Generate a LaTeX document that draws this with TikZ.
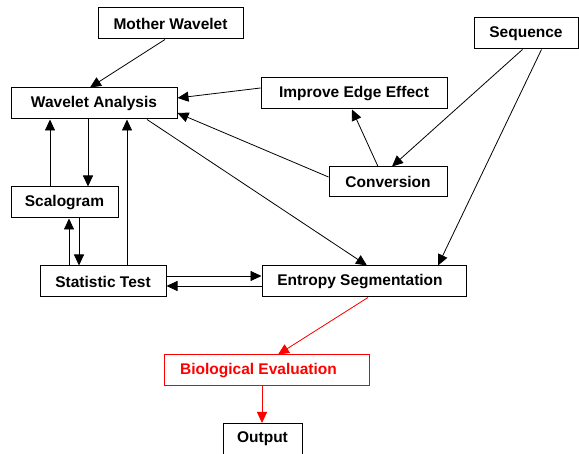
\documentclass[tikz,border=0pt]{standalone}
\usepackage{fontspec}
\setmainfont{Liberation Sans}
\usepackage{tikz}
\usetikzlibrary{positioning,calc,arrows.meta}
\tikzset{stepnode/.style={shape=rectangle, draw=black, fill=white, line width=1pt, inner sep=0pt, minimum height=31pt, font=\fontsize{15.5}{18}\selectfont\bfseries}}
\tikzset{evalnode/.style={stepnode, draw=red, text=red}}
\tikzset{flow/.style={line width=0.8pt, -{Triangle[length=11pt,width=10pt]}}}
\tikzset{redflow/.style={flow, draw=red, fill=red}}

\begin{document}
\begin{tikzpicture}[x=1pt,y=-1pt]
\useasboundingbox (0,0) rectangle (579,454);
%Nodes
\node[stepnode, minimum width=145pt] (mother) at (170.5,23.5) {Mother Wavelet};
\node[stepnode, minimum width=166pt] (wa)     at (94,103.5)   {Wavelet Analysis};
\node[stepnode, minimum width=107pt] (scal)   at (64.5,202.5) {Scalogram};
\node[stepnode, minimum width=126pt] (stat)   at (103,281.5)  {Statistic Test};
\node[stepnode, minimum width=204pt] (ent)    at (364,281.5)  {Entropy Segmentation\hspace*{8pt}};
\node[evalnode, minimum width=205pt] (bio)    at (266.5,370.5) {Biological Evaluation\hspace*{16pt}};
\node[stepnode, minimum width=79pt]  (out)    at (262.5,439) {Output};
\node[stepnode, minimum width=186pt] (imp)    at (354,93.5)   {Improve Edge Effect};
\node[stepnode, minimum width=118pt, minimum height=30pt] (conv) at (388,182) {Conversion};
\node[stepnode, minimum width=104pt] (seq)    at (526,33.5)   {Sequence};
%Lines
\draw[flow] ([xshift=-5.5pt]mother.south) to ([xshift=-4pt]wa.north);
\draw[flow] ([yshift=5.5pt]imp.west) to ([yshift=5.5pt]wa.east);
\draw[flow] ([yshift=5pt]conv.west) to ([yshift=-9.5pt]wa.east);
\draw[flow] ([xshift=-6pt]wa.south) to ([xshift=-6pt]wa.south |- scal.north);
\draw[flow] ([xshift=-14.5pt]scal.north) to ([xshift=-14.5pt]scal.north |- wa.south);
\draw[flow] ([xshift=24pt]stat.north) to ([xshift=24pt]stat.north |- wa.south);
\draw[flow] ([xshift=-34pt]stat.north) to ([xshift=-34pt]stat.north |- scal.south);
\draw[flow] ([xshift=14.5pt]scal.south) to ([xshift=14.5pt]scal.south |- stat.north);
\draw[flow] ([yshift=5.5pt]stat.east) to ([yshift=5.5pt]stat.east -| ent.west);
\draw[flow] ([yshift=-4.5pt]ent.west) to ([yshift=-4.5pt]ent.west -| stat.east);
\draw[flow] ([xshift=53pt]wa.south) to ([xshift=3pt]ent.north);
\draw[flow] ([xshift=-3.5pt]seq.south) to ([xshift=4pt]conv.north);
\draw[flow] ([xshift=15.5pt]seq.south) to ([xshift=74pt]ent.north);
\draw[flow] ([xshift=-10pt]conv.north) to ([xshift=-2pt]imp.south);
\draw[redflow] ([xshift=4pt]ent.south) to ([xshift=11.5pt]bio.north);
\draw[redflow] ([xshift=-4.5pt]bio.south) to ([xshift=-4.5pt]bio.south |- out.north);
\end{tikzpicture}
\end{document}
